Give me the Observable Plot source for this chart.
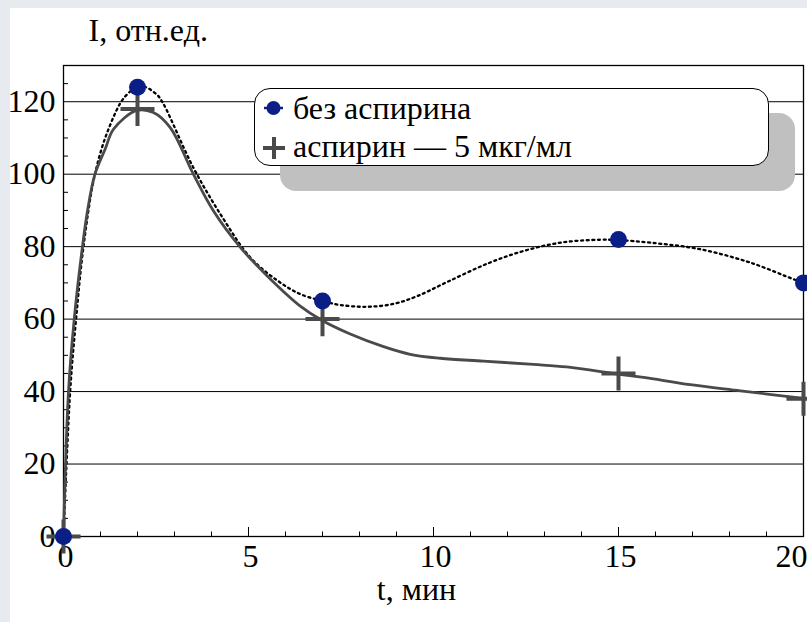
<!DOCTYPE html>
<html>
<head>
<meta charset="utf-8">
<script src="https://cdn.jsdelivr.net/npm/d3@7"></script>
<script src="https://cdn.jsdelivr.net/npm/@observablehq/plot@0.6"></script>
<style>
  html, body { margin: 0; padding: 0; background: #e7eaee; }
  #wrap { position: relative; width: 807px; height: 622px; overflow: hidden; font-family: 'Liberation Serif'; }
  #wrap * { font-family: 'Liberation Serif'; }
  #panel { position: absolute; left: 10px; top: 8px; right: 0; bottom: 0; background: #fff; }
  #chart { position: absolute; left: 0; top: 0; }
  #legend { position: absolute; left: 254px; top: 88px; width: 515px; height: 78px; box-sizing: border-box;
            border: 1.5px solid #000; border-radius: 16px; background: #fff; box-shadow: 26px 25px 0 0 #c0c0c0; }
  #legend .sym { position: absolute; left: -1.5px; top: -1.5px; overflow: visible; }
  #legend .row { position: absolute; left: 38px; font-size: 32px; line-height: 32px; white-space: nowrap; color: #000; }
</style>
</head>
<body>
<div id="wrap">
  <div id="panel"></div>
  <div id="chart"></div>
  <div id="legend"></div>
</div>
<script>
// ---- data ----
const times = [0, 2, 7, 15, 20];
const noAspirin = [0, 124, 65, 82, 70];
const aspirin = [0, 118, 60, 45, 38];
// smoothed curves drawn through the series
const noAspirinCurveT = [0, 0.18, 0.34, 0.54, 0.85, 1.2, 1.67, 2.1, 2.52, 2.7, 3.51, 4.3, 5.05, 5.8, 6.4, 7, 7.48, 8.2, 8.92, 9.55, 10.36, 11.5, 12.5, 13.5, 14.5, 15, 15.86, 17.2, 18.56, 19.73, 20];
const noAspirinCurveI = [0, 40, 60, 80, 100, 112, 121.5, 124.3, 122, 119.4, 101.8, 88, 77, 70.5, 66.9, 65, 63.9, 63.4, 64.2, 66.3, 70.2, 75.5, 79, 81.2, 81.9, 81.8, 81.1, 79.3, 75.6, 71, 70];
const aspirinCurveT = [0, 0.135, 0.29, 0.5, 0.65, 0.85, 1.13, 1.35, 1.98, 2.43, 2.88, 3.51, 4.05, 4.78, 5.5, 6.4, 6.98, 7.75, 8.65, 9.37, 10.18, 11.35, 12.7, 13.6, 15, 15.68, 16.94, 18.3, 20];
const aspirinCurveI = [0, 40, 60, 79, 90, 100, 107, 112.4, 117.6, 117, 112.9, 100, 89.9, 79.8, 72, 63.6, 59.7, 55.9, 52.4, 50.3, 49.2, 48.4, 47.5, 46.8, 44.8, 43.9, 41.9, 40.2, 38.1];
const seriesNames = ["без аспирина", "аспирин — 5 мкг/мл"];
const xTickLabels = [0, 5, 10, 15];
const xLastLabel = [20];
const xMinorTicks = d3.range(1, 20).filter(d => d % 5 !== 0);
const xMajorTicks = [5, 10, 15];
const yTickLabels = [0, 20, 40, 60, 80, 100, 120];
const yGrid = [20, 40, 60, 80, 100, 120];
const yMinorTicks = [5, 10, 15, 25, 30, 35, 45, 50, 55, 65, 70, 75, 85, 90, 95, 105, 110, 115, 125];
const yTitle = "I, отн.ед.";
const xTitle = "t, мин";

const navy = "#0a1e86";
const gray = "#4a4a4a";
const serif = "Liberation Serif";

const pts1 = times.map((t, i) => ({t, v: noAspirin[i]}));
const pts2 = times.map((t, i) => ({t, v: aspirin[i]}));
const curve1 = noAspirinCurveT.map((t, i) => ({t, v: noAspirinCurveI[i]}));
const curve2 = aspirinCurveT.map((t, i) => ({t, v: aspirinCurveI[i]}));

const W = 807, H = 622, mL = 63, mR = 4, mT = 65, mB = 86;
const innerH = H - mT - mB, innerW = W - mL - mR;

const chart = Plot.plot({
  width: W, height: H,
  marginLeft: mL, marginRight: mR, marginTop: mT, marginBottom: mB,
  style: {background: "transparent", color: "#000", overflow: "visible", fontFamily: serif},
  x: {domain: [0, 20], axis: null},
  y: {domain: [0, 130], axis: null},
  marks: [
    Plot.ruleY(yGrid, {stroke: "#000", strokeWidth: 1}),
    Plot.tickX(xMinorTicks, {x: d => d, stroke: "#000", strokeWidth: 1, insetTop: innerH - 4.5}),
    Plot.tickX(xMajorTicks, {x: d => d, stroke: "#000", strokeWidth: 1, insetTop: innerH - 9}),
    Plot.tickY(yMinorTicks, {y: d => d, stroke: "#000", strokeWidth: 1, insetRight: innerW - 5}),
    Plot.frame({stroke: "#000", strokeWidth: 1.3}),
    Plot.axisX(xTickLabels, {tickSize: 0, tickPadding: 8, fontSize: 32, fontFamily: serif, dx: 2, label: null}),
    Plot.axisX(xLastLabel, {tickSize: 0, tickPadding: 8, fontSize: 32, fontFamily: serif, textAnchor: "end", dx: 4, label: null}),
    Plot.axisY(yTickLabels, {tickSize: 0, tickPadding: 8, fontSize: 32, fontFamily: serif, label: null}),
    Plot.text([yTitle], {frameAnchor: "top-left", dx: 25, dy: -35, textAnchor: "start", lineAnchor: "middle", fontSize: 32, fontFamily: serif}),
    Plot.text([xTitle], {frameAnchor: "bottom", dx: -17, dy: 53, textAnchor: "middle", lineAnchor: "middle", fontSize: 32, fontFamily: serif}),
    Plot.line(curve1, {x: "t", y: "v", curve: "catmull-rom", stroke: "#000", strokeWidth: 2.3, strokeDasharray: "2 3.6"}),
    Plot.line(curve2, {x: "t", y: "v", curve: "catmull-rom", stroke: gray, strokeWidth: 2.8}),
    Plot.dot(pts2, {x: "t", y: "v", symbol: "plus", r: 11, stroke: gray, strokeWidth: 4}),
    Plot.dot(pts1, {x: "t", y: "v", r: 8.5, fill: navy, stroke: "none"})
  ]
});
document.getElementById("chart").appendChild(chart);

// ---- legend ----
const lg = d3.select("#legend").append("svg").attr("class", "sym").attr("width", 515).attr("height", 78);
lg.append("line").attr("x1", 10).attr("x2", 29).attr("y1", 20).attr("y2", 20).attr("stroke", navy).attr("stroke-width", 2.5);
lg.append("circle").attr("cx", 19.5).attr("cy", 20).attr("r", 7).attr("fill", navy);
lg.append("line").attr("x1", 9).attr("x2", 31).attr("y1", 60).attr("y2", 60).attr("stroke", gray).attr("stroke-width", 4);
lg.append("line").attr("x1", 20).attr("x2", 20).attr("y1", 49).attr("y2", 71).attr("stroke", gray).attr("stroke-width", 4);
d3.select("#legend").selectAll("div.row").data(seriesNames).join("div")
  .attr("class", "row")
  .style("top", (d, i) => (i === 0 ? 3 : 41) + "px")
  .text(d => d);
</script>
</body>
</html>
